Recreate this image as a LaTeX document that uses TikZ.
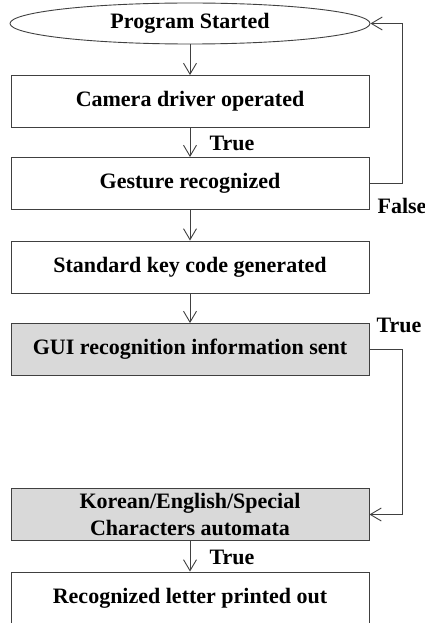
\documentclass[tikz,border=0pt]{standalone}
\usepackage{fontspec}
\setmainfont{Liberation Serif}
\usetikzlibrary{arrows.meta,shapes.geometric}
\begin{document}
\begin{tikzpicture}[x=1pt,y=-1pt,
  line/.style={draw=black!75, line width=0.9pt},
  arr/.style={line, -{Straight Barb[length=11pt,width=13pt,line width=0.9pt]}},
  txt/.style={font=\fontsize{22}{27}\selectfont\bfseries},
  box/.style={line, txt, rectangle, minimum width=358pt, minimum height=52pt, inner sep=0pt,
    align=center},
  gbox/.style={box, fill=black!15},
  lbl/.style={txt, inner sep=0pt},
  oval/.style={line, txt, ellipse, minimum width=360pt, minimum height=41pt, inner sep=0pt}]
\useasboundingbox (0,0) rectangle (425,623);
\clip (0,0) rectangle (425,623);
\node[oval] (start) at (190,23.5) {Program Started};
\node[box] (b1) at (190,101.5) {Camera driver operated};
\node[box] (b2) at (190,183.5) {Gesture recognized};
\node[box] (b3) at (190,267) {Standard key code generated};
\node[gbox] (b4) at (190,349.5) {GUI recognition information sent};
\node[gbox] (b5) at (190,514.5) {Korean/English/Special\\Characters automata};
\node[box] (b6) at (190,598) {Recognized letter printed out};
\node[lbl] (t1) at (232,143) {True};
\node[lbl] (f1) at (402,206) {False};
\node[lbl] (t2) at (399,325) {True};
\node[lbl] (t3) at (232,557) {True};
\draw[arr] (start) -- (b1);
\draw[arr] (b1) -- (b2);
\draw[arr] (b2) -- (b3);
\draw[arr] (b3) -- (b4);
\draw[arr] (b5) -- (b6);
\draw[arr] (b2.east) -- ++(33,0) |- (start.east);
\draw[arr] (b4.east) -- ++(33,0) |- (b5.east);
\end{tikzpicture}
\end{document}
